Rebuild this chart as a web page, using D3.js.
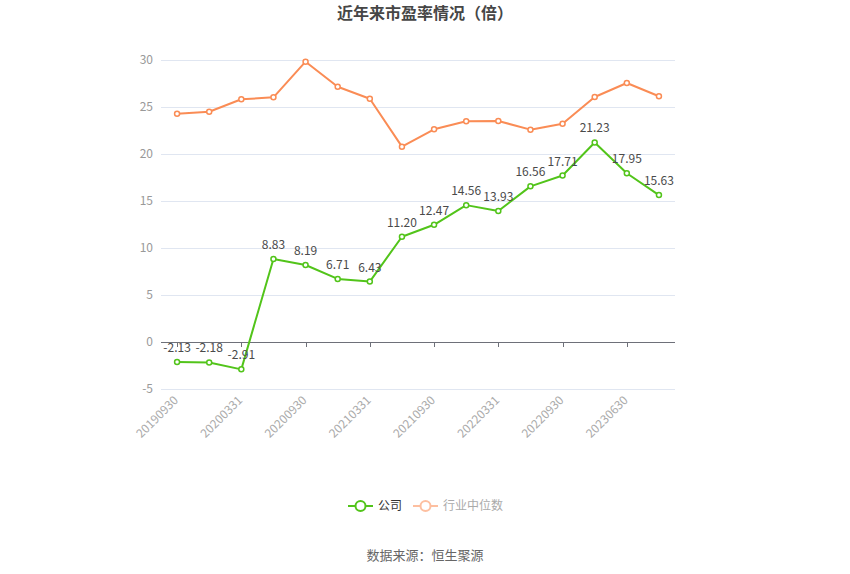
<!DOCTYPE html>
<html><head><meta charset="utf-8">
<script src="https://cdn.jsdelivr.net/npm/d3@7"></script>
<style>body{margin:0;background:#fff;font-family:"Microsoft YaHei","Noto Sans CJK SC",sans-serif;}</style>
</head><body><svg id="c" width="850" height="574"></svg>
<script>
const categories = ["20190930","20191231","20200331","20200630","20200930","20201231","20210331","20210630","20210930","20211231","20220331","20220630","20220930","20221231","20230630","20230930"];
const companyPE = [-2.13,-2.18,-2.91,8.83,8.19,6.71,6.43,11.20,12.47,14.56,13.93,16.56,17.71,21.23,17.95,15.63];
const industryPE = [24.29,24.5,25.82,26.03,29.82,27.16,25.88,20.78,22.63,23.48,23.51,22.59,23.22,26.06,27.55,26.14];
const yTicks = [-5,0,5,10,15,20,25,30];
const seriesNames = ["公司","行业中位数"];

(function(){
const svg = d3.select("#c");
const font = '"Microsoft YaHei","Noto Sans CJK SC",sans-serif';
const pL = 161, pR = 675, pT = 60, pB = 389;
const x = d3.scaleBand().domain(categories).range([pL, pR]);
const y = d3.scaleLinear().domain([-5, 30]).range([pB, pT]);
const cx = d => x(d) + x.bandwidth()/2;

// title
svg.append("text").attr("x", 425).attr("y", 19).attr("text-anchor","middle")
  .attr("font-family", font).attr("font-size", 16).attr("font-weight","bold").attr("fill","#464646")
  .text("近年来市盈率情况（倍）");

// grid
svg.append("g").selectAll("line").data(yTicks.filter(t=>t!==0)).join("line")
  .attr("x1", pL).attr("x2", pR).attr("y1", d=>Math.round(y(d))+0.5).attr("y2", d=>Math.round(y(d))+0.5)
  .attr("stroke","#e0e6f1").attr("stroke-width",1);
svg.append("g").selectAll("text").data(yTicks).join("text")
  .attr("x", pL-8).attr("y", d=>y(d)).attr("dy","0.35em").attr("text-anchor","end")
  .attr("font-family", font).attr("font-size", 12).attr("fill","#999").text(d=>d);

// x axis at zero
svg.append("line").attr("x1", pL).attr("x2", pR).attr("y1", Math.round(y(0))+0.5).attr("y2", Math.round(y(0))+0.5)
  .attr("stroke","#6e7079").attr("stroke-width",1);
const shown = categories.filter((d,i)=>i%2===0);
svg.append("g").selectAll("line").data(shown).join("line")
  .attr("x1", d=>Math.round(cx(d))+0.5).attr("x2", d=>Math.round(cx(d))+0.5)
  .attr("y1", y(0)).attr("y2", y(0)+5).attr("stroke","#6e7079");
svg.append("g").selectAll("text").data(shown).join("text")
  .attr("transform", d=>`translate(${cx(d)-4},${pB+6}) rotate(-45)`)
  .attr("text-anchor","end").attr("dy","0.7em")
  .attr("font-family", font).attr("font-size", 12).attr("fill","#aaa").text(d=>d);

function drawSeries(vals, color, labels){
  const line = d3.line().x((d,i)=>cx(categories[i])).y(d=>y(d));
  svg.append("path").datum(vals).attr("d", line).attr("fill","none")
    .attr("stroke", color).attr("stroke-width", 2).attr("stroke-linejoin","round");
  svg.append("g").selectAll("circle").data(vals).join("circle")
    .attr("cx",(d,i)=>cx(categories[i])).attr("cy", d=>y(d)).attr("r",2.5)
    .attr("fill","#fff").attr("stroke", color).attr("stroke-width",1.5);
  if(labels){
    svg.append("g").selectAll("text").data(vals).join("text")
      .attr("x",(d,i)=>cx(categories[i])).attr("y", d=>y(d)-10).attr("text-anchor","middle")
      .attr("font-family", font).attr("font-size", 12).attr("fill","#4a4a4a")
      .text(d=>d.toFixed(2));
  }
}
drawSeries(industryPE, "#fa8c55", false);
drawSeries(companyPE, "#52c41a", true);

// legend
const leg = [{name:seriesNames[0], color:"#52c41a", text:"#333", x:348},
             {name:seriesNames[1], color:"#fdbfa0", text:"#aaa", x:413}];
leg.forEach(l=>{
  const g = svg.append("g").attr("transform",`translate(${l.x},506)`);
  g.append("line").attr("x1",0).attr("x2",25).attr("y1",0).attr("y2",0).attr("stroke",l.color).attr("stroke-width",2);
  g.append("circle").attr("cx",12.5).attr("cy",0).attr("r",5).attr("fill","#fff").attr("stroke",l.color).attr("stroke-width",2);
  g.append("text").attr("x",30).attr("y",0).attr("dy","0.35em").attr("font-family",font).attr("font-size",12)
    .attr("fill",l.text).text(l.name);
});

svg.append("text").attr("x",425).attr("y",560).attr("text-anchor","middle")
  .attr("font-family",font).attr("font-size",13).attr("fill","#666").text("数据来源：恒生聚源");
})();
</script></body></html>
